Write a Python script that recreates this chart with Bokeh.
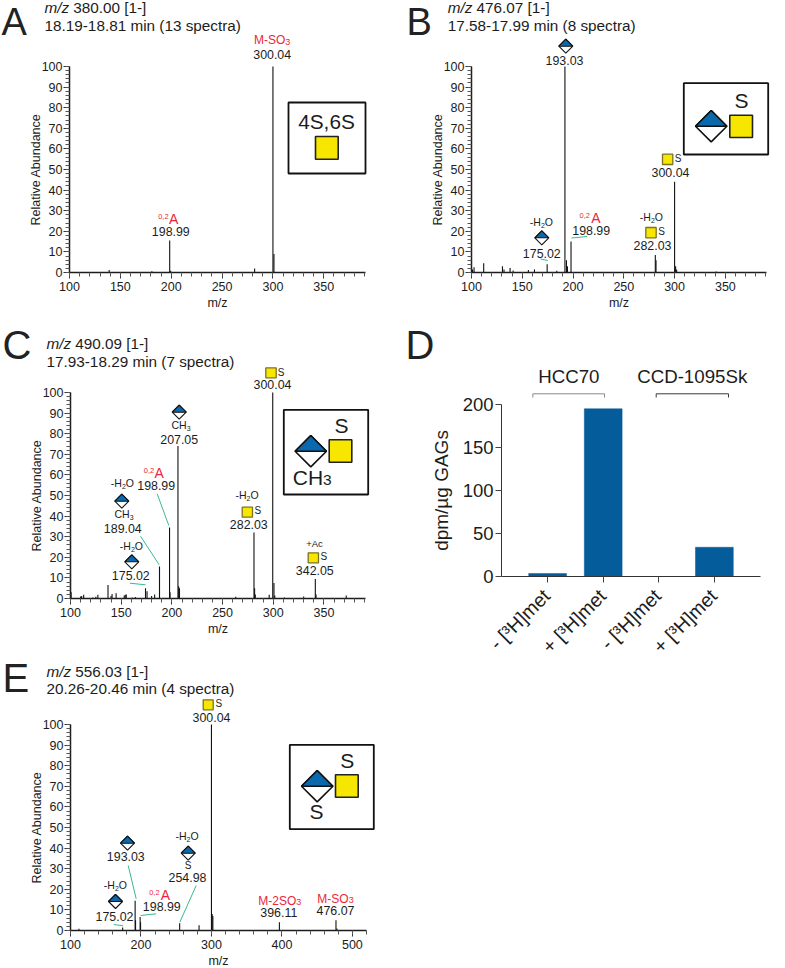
from bokeh.plotting import figure
from bokeh.layouts import row, column
from bokeh.models import (Range1d, FixedTicker, Label, BoxAnnotation, PolyAnnotation, Arrow)
from bokeh.embed import file_html
from bokeh.resources import INLINE

# ---------- data ----------
a_mz = [139, 181, 198.5, 199.5, 282, 300, 301]
a_int = [1.2, 0.6, 15.5, 0.8, 2, 100, 9]

b_mz = [101, 102.5, 112, 130.5, 132, 138, 141, 156, 162, 174.5, 184, 192, 193.5, 194.5, 198, 281, 281.7, 300, 301, 302, 341]
b_int = [1.5, 2.5, 4.5, 3, 1.5, 2.2, 1, 1.2, 1.5, 4, 0.8, 100, 6, 3, 15, 8.5, 6, 44, 3, 1.5, 0.5]

c_mz = [100, 100.6, 110, 111, 113, 122, 125, 127, 137, 140, 141, 145, 153, 154, 155, 161, 164, 174, 175.5, 180, 183, 187.8,
        197.7, 198.2, 206, 206.7, 207.5, 263, 281, 281.6, 282.3, 296, 299.5, 300.7, 301.5, 311, 330, 341.5, 342.2, 372]
c_int = [12.5, 3, 1, 1.2, 1.8, 0.5, 0.8, 1.8, 6.5, 1.2, 2.2, 2.5, 1.5, 1.8, 2, 0.5, 0.7, 5, 3.5, 1.2, 2, 15.5,
         34.5, 3, 74, 6, 5, 0.8, 32, 5, 2, 1.8, 100, 7.5, 1.5, 0.5, 1, 9.5, 2, 1.5]

e_mz = [112, 174, 191.7, 192.3, 198.8, 199.4, 254.9, 282.4, 300, 301, 302, 396.4, 476.7, 478]
e_int = [0.8, 1.5, 14.5, 5, 6.5, 4, 3.5, 2.5, 100, 8, 7, 4, 5, 1]

d_cats = ["- [\u00b3H]met", "+ [\u00b3H]met", "- [\u00b3H]met", "+ [\u00b3H]met"]
d_vals = [3.5, 195, 0, 34]
d_groups = ["HCC70", "CCD-1095Sk"]

x_ticks_major = [100, 150, 200, 250, 300, 350]
e_ticks_major = [100, 200, 300, 400, 500]

# ---------- style ----------
FONT = "Liberation Sans"
INK = "#1c1c1c"
RED = "#e8283a"
BLUE = "#0a68ad"
YEL = "#f7e600"
GREEN = "#3cb98a"
BASE = 0.43
N = 12.4
AW = {c: .556 for c in "0123456789abdeghnopqu"}
AW.update({".": .278, ",": .278, "-": .333, " ": .278, "M": .833, "S": .667, "O": .778, "H": .722, "C": .722,
           "A": .667, "m": .833, "c": .5, "s": .5, "z": .5, "/": .278, "[": .278, "]": .278, "(": .333, ")": .333,
           "+": .584, "t": .278, "r": .333, "i": .222})


def width(t, s):
    return sum(AW.get(c, .556) for c in t) * s


class Panel:
    def __init__(self, fx, fy, fw, fh, l, r, t, b, xr, yr):
        self.fx, self.fy = fx, fy
        kx = (xr[1] - xr[0]) / (r - l)
        ky = (yr[1] - yr[0]) / (b - t)
        rx = (xr[0] - (l - fx) * kx, xr[1] + (fx + fw - r) * kx)
        ry = (yr[0] - (fy + fh - b) * ky, yr[1] + (t - fy) * ky)
        self.p = figure(width=fw, height=fh, x_range=Range1d(*rx), y_range=Range1d(*ry),
                        output_backend="svg", toolbar_location=None, frame_align=False, min_border=0)
        self.p.grid.visible = False
        self.p.outline_line_color = None
        self.p.background_fill_color = "white"
        self.p.border_fill_color = "white"
        xa, ya = self.p.xaxis[0], self.p.yaxis[0]
        xa.fixed_location, ya.fixed_location = yr[0], xr[0]
        xa.bounds, ya.bounds = xr, yr

    def X(self, px):
        return px - self.fx

    def Y(self, py):
        return py - self.fy

    def text(self, x, y, t, size=12, color=INK, align="left", style="normal"):
        self.p.add_layout(Label(x=self.X(x), y=self.Y(y) - BASE * size, x_units="canvas", y_units="canvas", text=t,
                                text_font=FONT, text_font_size=f"{size}px",
                                text_color=color, text_align=align, text_baseline="alphabetic",
                                text_font_style=style))

    def rich(self, x, y, runs, align="left", color=INK):
        total = sum(width(t, s) for t, s, _ in runs)
        cur = x - total / 2 if align == "center" else x
        for t, s, dy in runs:
            self.text(cur, y + dy, t, s, color)
            cur += width(t, s)

    def box(self, x0, x1, y0, y1, fc, lc, lw):
        self.p.add_layout(BoxAnnotation(left=self.X(x0), right=self.X(x1), top=self.Y(y0), bottom=self.Y(y1),
                                        left_units="canvas", right_units="canvas", top_units="canvas",
                                        bottom_units="canvas",
                                        fill_color=fc, fill_alpha=1, line_color=lc, line_width=lw, line_alpha=1))

    def square(self, x0, x1, y0, y1, lc="#7d7124", lw=1.3):
        self.box(x0, x1, y0, y1, YEL, lc, lw)

    def poly(self, xs, ys, fc, lw):
        self.p.add_layout(PolyAnnotation(xs=[self.X(v) for v in xs], ys=[self.Y(v) for v in ys],
                                         xs_units="canvas", ys_units="canvas", fill_color=fc,
                                         fill_alpha=1, line_color="#111111", line_width=lw, line_alpha=1))

    def diamond(self, cx, cy, h=7, lw=1.1):
        xs = [cx - h, cx, cx + h, cx]
        ys = [cy, cy - h, cy, cy + h]
        self.poly(xs, ys, "white", lw)
        self.poly(xs[:3], ys[:3], BLUE, lw)

    def inset(self, x0, x1, y0, y1):
        self.box(x0, x1, y0, y1, "white", "#111111", 1.8)

    def seg(self, x0, y0, x1, y1, color=GREEN, lw=1):
        self.p.add_layout(Arrow(end=None, x_start=self.X(x0), y_start=self.Y(y0), x_end=self.X(x1), y_end=self.Y(y1),
                                start_units="canvas", end_units="canvas", line_color=color, line_width=lw))

    def water(self, x, y):
        self.rich(x, y, [("-H", 10.5, 0), ("2", 7, 2), ("O", 10.5, 0)])

    def ch3(self, x, y):
        self.rich(x, y, [("CH", 10.5, 0), ("3", 7, 2)])

    def header(self, letter, lx, ly, x, y1, y2, mass, span, lsize=40):
        self.text(lx, ly, letter, lsize, "#222222")
        self.text(x, y1, "m/z", 15.3, INK, style="italic")
        self.text(x + 28.7, y1, f"{mass} [1-]", 15.3)
        self.text(x, y2, span, 15.3)


def spectrum(fx, fy, fw, fh, l, r, t, b, xmax, mz, inten, major, minor):
    pn = Panel(fx, fy, fw, fh, l, r, t, b, (100, xmax), (0, 100))
    p = pn.p
    p.segment(mz, [0] * len(mz), mz, inten, line_color="#111111", line_width=1.1)
    xa, ya = p.xaxis[0], p.yaxis[0]
    xa.ticker = FixedTicker(ticks=major, minor_ticks=minor)
    ya.ticker = FixedTicker(ticks=list(range(0, 101, 10)), minor_ticks=list(range(0, 101, 2)))
    xa.axis_label, ya.axis_label = "m/z", "Relative Abundance"
    for ax in (xa, ya):
        ax.axis_line_color = INK
        ax.axis_line_width = 1.5
        ax.major_tick_line_color = "#333333"
        ax.minor_tick_line_color = "#555555"
        ax.major_tick_in = ax.minor_tick_in = 0
        ax.major_tick_out = 6
        ax.minor_tick_out = 4
        ax.major_label_text_font = FONT
        ax.major_label_text_font_size = "12.5px"
        ax.major_label_text_color = INK
        ax.axis_label_text_font = FONT
        ax.axis_label_text_font_size = "12.5px"
        ax.axis_label_text_font_style = "normal"
        ax.axis_label_text_color = INK
    xa.major_label_standoff = 3
    xa.axis_label_standoff = 2
    ya.major_label_standoff = 1
    ya.axis_label_standoff = -4
    return pn


minor_a = list(range(100, 391, 10))
minor_e = list(range(100, 521, 20))

# ---------- A ----------
A = spectrum(0, 0, 395, 318, 69, 365, 66, 272, 391, a_mz, a_int, x_ticks_major, minor_a)
A.header("A", 1, 38, 44, 14, 32, "380.00", "18.19-18.81 min (13 spectra)", lsize=38)
A.rich(271.7, 45, [("M-SO", 12, 0), ("3", 9, 0)], "center", RED)
A.text(271.7, 59, "300.04", N, align="center")
A.text(157.7, 219, "0,2", 7.5, RED)
A.text(168.5, 224.3, "A", 14, RED)
A.text(170.3, 236, "198.99", N, align="center")
A.inset(288, 365, 102, 173)
A.text(326, 130, "4S,6S", 20.8, align="center")
A.square(315, 337.7, 136, 158.7, "#222222", 1.6)

# ---------- B ----------
B = spectrum(395, 0, 390, 318, 471, 766, 66, 272, 390.5, b_mz, b_int, x_ticks_major, minor_a)
B.header("B", 406, 38, 447.3, 14, 32, "476.07", "17.58-17.99 min (8 spectra)", lsize=38)
B.diamond(565.3, 45.7)
B.text(564, 65, "193.03", N, align="center")
B.square(662, 672.3, 153.7, 164)
B.text(674.3, 162.7, "S", 10)
B.text(670, 177, "300.04", N, align="center")
B.water(529.3, 226)
B.diamond(541.3, 237.3)
B.text(541.3, 258.3, "175.02", N, align="center")
B.seg(540, 258.5, 547.3, 260)
B.text(579, 218.3, "0,2", 7.5, RED)
B.text(590.7, 224, "A", 14, RED)
B.text(590.7, 235.3, "198.99", N, align="center")
B.seg(571, 237.5, 586.7, 236)
B.water(639.3, 220.7)
B.square(645.3, 655.7, 227, 237.3)
B.text(657.7, 235, "S", 10)
B.text(652, 250.7, "282.03", N, align="center")
B.inset(683.3, 767.7, 82.7, 154)
B.diamond(710.7, 125.7, 15.7, 1.6)
B.square(729.3, 752, 114.7, 137, "#222222", 1.6)
B.text(741, 109.3, "S", 21, align="center")

# ---------- C ----------
C = spectrum(0, 318, 395, 337, 70, 365, 392, 598, 391, c_mz, c_int, x_ticks_major, minor_a)
C.header("C", 2, 362, 46, 350, 367.7, "490.09", "17.93-18.29 min (7 spectra)")
C.square(265.3, 275.7, 367.3, 377.3)
C.text(277.3, 376, "S", 10)
C.text(272, 389.3, "300.04", N, align="center")
C.diamond(178.7, 411.7)
C.ch3(171, 428.7)
C.text(178.7, 444, "207.05", N, align="center")
C.text(143.3, 473.3, "0,2", 7.5, RED)
C.text(154, 478.7, "A", 14, RED)
C.text(155.7, 490, "198.99", N, align="center")
C.water(110.3, 487.3)
C.diamond(121.3, 500.7)
C.ch3(114, 517.7)
C.text(122.3, 533.3, "189.04", N, align="center")
C.water(119.3, 550)
C.diamond(131.3, 561.3)
C.text(130.3, 580.7, "175.02", N, align="center")
C.seg(156.7, 493.3, 168.3, 525)
C.seg(140, 535.7, 158.7, 564.3)
C.seg(129.3, 582.7, 145, 584.3)
C.water(235, 499.3)
C.square(241.7, 252, 506.7, 516.7)
C.text(254, 514.3, "S", 10)
C.text(248.3, 529, "282.03", N, align="center")
C.text(314, 546.7, "+Ac", 9.5, align="center")
C.square(307.7, 318, 552.3, 562.3)
C.text(320, 560, "S", 10)
C.text(314.3, 575.7, "342.05", N, align="center")
C.inset(283.3, 367.7, 409.3, 494)
C.diamond(310.3, 450.7, 15.7, 1.6)
C.square(328.7, 351.3, 439.3, 461.7, "#222222", 1.6)
C.text(341, 434.3, "S", 21, align="center")
C.text(292.3, 485.7, "CH", 21)
C.text(322.6, 485.7, "3", 15.5)

# ---------- E ----------
E = spectrum(0, 655, 395, 313, 70, 366, 724, 930, 520, e_mz, e_int, e_ticks_major, minor_e)
E.header("E", 2, 695, 46, 677.7, 694.3, "556.03", "20.26-20.46 min (4 spectra)")
E.square(202.7, 212.7, 699.3, 709.3)
E.text(215, 707.7, "S", 10)
E.text(211, 722.3, "300.04", N, align="center")
E.diamond(127, 842.7)
E.text(125.3, 861.7, "193.03", N, align="center")
E.seg(127.7, 865, 135.7, 898.3)
E.water(175, 840)
E.diamond(187.7, 852.7)
E.text(187.7, 869.3, "S", 10, align="center")
E.text(187, 882.3, "254.98", N, align="center")
E.seg(195.7, 885, 179.3, 921.7)
E.water(103.3, 889.3)
E.diamond(115, 901)
E.text(114, 921, "175.02", N, align="center")
E.seg(113.3, 924, 122.7, 925.3)
E.text(148.7, 895.7, "0,2", 7.5, RED)
E.text(160.3, 900.3, "A", 14, RED)
E.text(161.3, 911.3, "198.99", N, align="center")
E.seg(140, 915, 155.7, 913.3)
E.rich(279.3, 905.7, [("M-2SO", 12, 0), ("3", 9, 0)], "center", RED)
E.text(278.3, 917.3, "396.11", N, align="center")
E.rich(335, 903.7, [("M-SO", 12, 0), ("3", 9, 0)], "center", RED)
E.text(335, 915.7, "476.07", N, align="center")
E.inset(289.3, 373.3, 744.3, 828.7)
E.diamond(316.7, 785.7, 15.7, 1.6)
E.square(335, 357.7, 774.3, 796.7, "#222222", 1.6)
E.text(346.7, 769, "S", 21, align="center")
E.text(316, 820, "S", 21, align="center")

# ---------- D ----------
D = Panel(395, 318, 390, 650, 501, 760, 404, 576, (0.17, 4.83), (0, 200))
pd = D.p
positions = list(range(1, len(d_vals) + 1))
pd.vbar(x=positions, top=d_vals, bottom=0, width=0.68, fill_color="#045c9a", line_color="#045c9a", line_width=0.5)
xa, ya = pd.xaxis[0], pd.yaxis[0]
xa.ticker = FixedTicker(ticks=positions, minor_ticks=[])
ya.ticker = FixedTicker(ticks=[0, 50, 100, 150, 200], minor_ticks=[])
xa.major_label_text_font_size = "0px"
xa.major_label_text_color = None
ya.axis_label = "dpm/\u00b5g GAGs"
for ax in (xa, ya):
    ax.axis_line_color = "#333333"
    ax.major_tick_line_color = "#444444"
    ax.minor_tick_line_color = None
    ax.major_tick_in = 0
    ax.major_tick_out = 6
ya.major_label_text_font = FONT
ya.major_label_text_font_size = "18.5px"
ya.major_label_text_color = INK
ya.major_label_standoff = 2
ya.axis_label_text_font = FONT
ya.axis_label_text_font_size = "19px"
ya.axis_label_text_font_style = "normal"
ya.axis_label_text_color = INK
ya.axis_label_standoff = 8
D.text(405, 362, "D", 40, "#222222")
for tick_x, cat in zip([546, 602, 657, 713], d_cats):
    pd.add_layout(Label(x=D.X(tick_x), y=D.Y(592), x_units="canvas", y_units="canvas", text=cat, text_font=FONT,
                        text_font_size="19.5px", text_color=INK, text_align="right", text_baseline="middle",
                        angle=45, angle_units="deg"))
D.text(568.3, 384.3, d_groups[0], 18.7, align="center")
D.text(691.7, 384.3, d_groups[1], 18.7, align="center")
for (x0, x1), col in (((532.3, 604), "#8a8a8a"), ((655.7, 728), "#3a3a3a")):
    D.seg(x0, 393.3, x1, 393.3, col, 1)
    D.seg(x0, 393.3, x0, 397, col, 1)
    D.seg(x1, 393.3, x1, 397, col, 1)

layout = row(column(A.p, C.p, E.p, spacing=0), column(B.p, D.p, spacing=0), spacing=0)
open("out.html", "w").write(file_html(layout, INLINE))
